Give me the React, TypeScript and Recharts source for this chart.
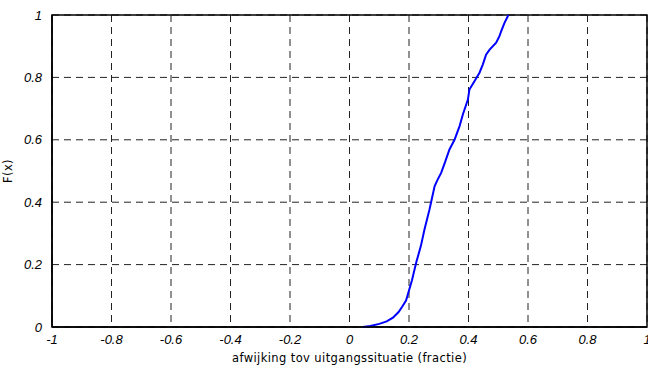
import React from "react";
import { LineChart, Line, XAxis, YAxis, CartesianGrid, ReferenceArea, Label } from "recharts";

// Empirical cumulative distribution of the deviation
const deviation = [
  0.045, 0.07, 0.1, 0.125, 0.146, 0.165, 0.177, 0.19, 0.196, 0.21, 0.224, 0.24, 0.252, 0.269,
  0.275, 0.286, 0.295, 0.308, 0.32, 0.336, 0.353, 0.37, 0.381, 0.398, 0.403, 0.42, 0.437, 0.448,
  0.459, 0.471, 0.493, 0.504, 0.51, 0.521, 0.532, 0.535,
];
const cumulative = [
  0, 0.003, 0.01, 0.018, 0.03, 0.048, 0.065, 0.085, 0.104, 0.15, 0.206, 0.26, 0.3125, 0.377,
  0.403, 0.451, 0.47, 0.494, 0.525, 0.569, 0.6, 0.644, 0.681, 0.729, 0.761, 0.788, 0.815, 0.841,
  0.873, 0.889, 0.911, 0.932, 0.948, 0.975, 0.996, 1,
];
const xTicks = [-1, -0.8, -0.6, -0.4, -0.2, 0, 0.2, 0.4, 0.6, 0.8, 1];
const yTicks = [0, 0.2, 0.4, 0.6, 0.8, 1];

const data = deviation.map((x, i) => ({ x, y: cumulative[i] }));

const tickFont = { fontFamily: "Liberation Sans, Arial, sans-serif", fontStyle: "italic", fontSize: 13, fill: "#000" };
const labelFont = { fontFamily: "DejaVu Sans, sans-serif", fontSize: 11.5, letterSpacing: 0.4, fill: "#000" };
const fmt = (v: number) => String(v);

export default function App() {
  return (
    <div style={{ position: "absolute", left: 0, top: 0 }}>
      <LineChart width={648} height={367} data={data} margin={{ top: 15, right: 1, left: 0, bottom: 0 }}>
        <CartesianGrid
          stroke="#222"
          strokeDasharray="7 5"
          horizontalValues={yTicks}
          verticalValues={xTicks}
        />
        <XAxis
          dataKey="x"
          type="number"
          domain={[-1, 1]}
          ticks={xTicks}
          tickFormatter={fmt}
          interval={0}
          tick={tickFont}
          tickLine={false}
          axisLine={{ stroke: "#000", strokeWidth: 1.5 }}
          tickMargin={2}
          height={40}
        >
          <Label
            value="afwijking tov uitgangssituatie (fractie)"
            position="insideBottom"
            offset={5}
            style={labelFont}
          />
        </XAxis>
        <YAxis
          type="number"
          domain={[0, 1]}
          ticks={yTicks}
          tickFormatter={fmt}
          interval={0}
          tick={tickFont}
          tickLine={false}
          axisLine={{ stroke: "#000", strokeWidth: 1.5 }}
          tickMargin={4}
          width={52}
        >
          <Label
            value="F(x)"
            angle={-90}
            position="insideLeft"
            offset={8}
            style={{ ...labelFont, textAnchor: "middle" }}
          />
        </YAxis>
        <ReferenceArea x1={-1} x2={1} y1={0} y2={1} fill="none" stroke="#000" strokeWidth={1.5} />
        <Line
          dataKey="y"
          type="linear"
          stroke="#0000ff"
          strokeWidth={2}
          dot={false}
          isAnimationActive={false}
        />
      </LineChart>
    </div>
  );
}
